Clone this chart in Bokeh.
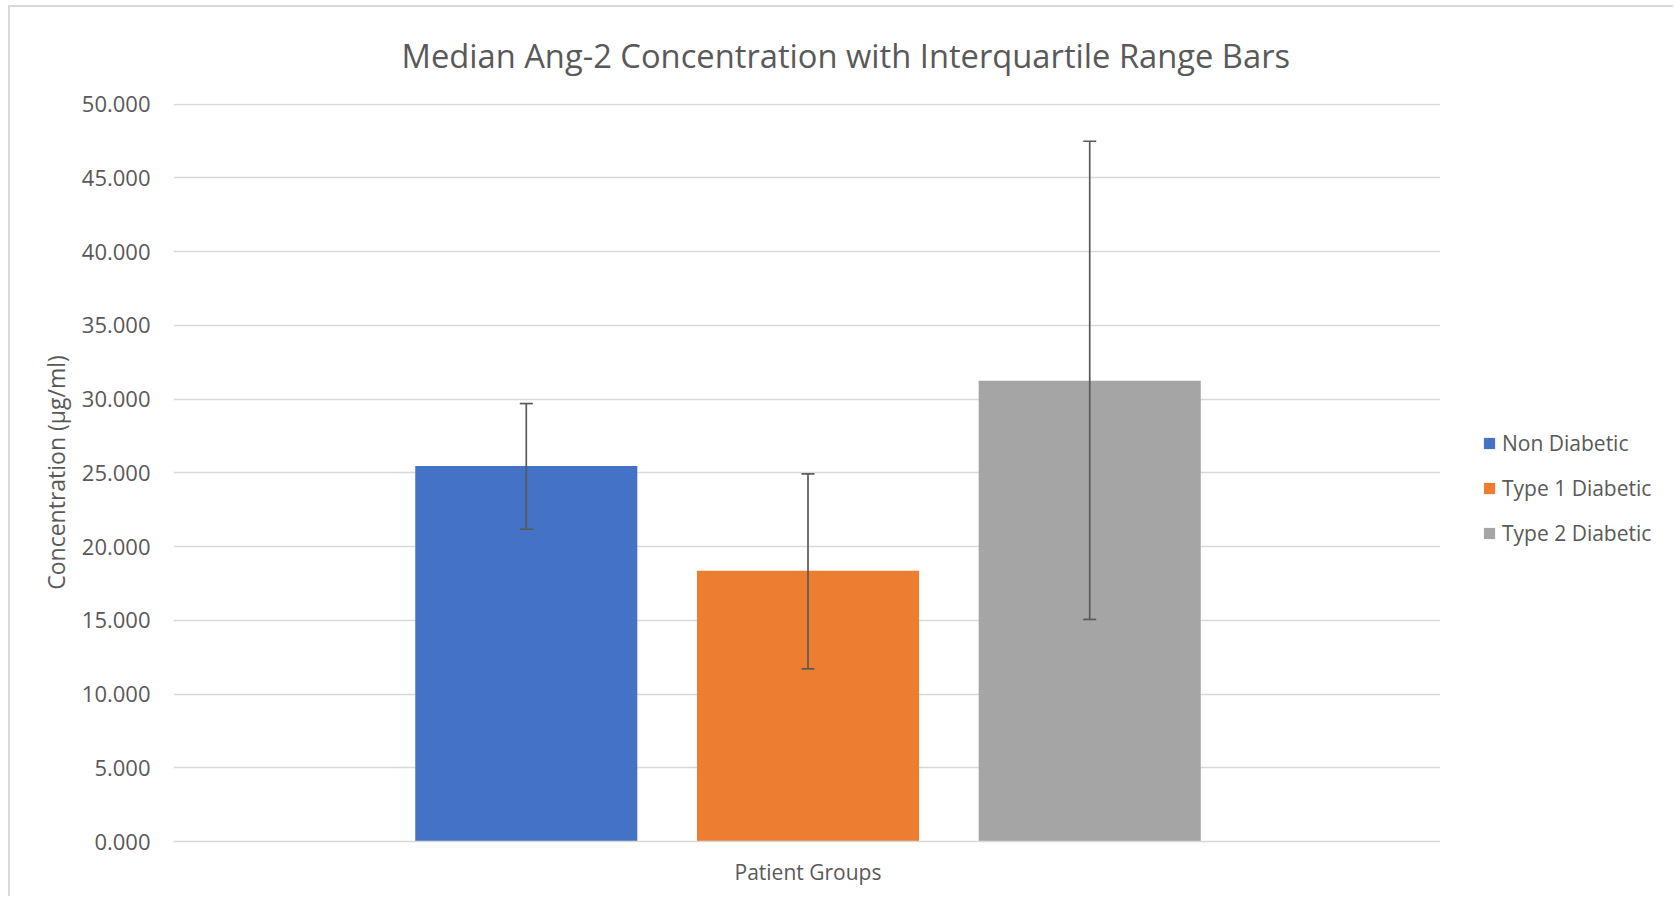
from bokeh.plotting import figure
from bokeh.layouts import row
from bokeh.models import (ColumnDataSource, Whisker, TeeHead, Legend, LegendItem,
                          FixedTicker, NumeralTickFormatter, Range1d, FactorRange)
from bokeh.transform import dodge
from bokeh.embed import file_html
from bokeh.resources import INLINE

# ---- data ----
group = ["Patient Groups"]
series = ["Non Diabetic", "Type 1 Diabetic", "Type 2 Diabetic"]
medians = [25.47, 18.37, 31.24]
q1 = [21.18, 11.71, 15.06]
q3 = [29.70, 24.93, 47.49]
colors = ["#4472C4", "#ED7D31", "#A5A5A5"]
y_ticks = [0, 5, 10, 15, 20, 25, 30, 35, 40, 45, 50]
offsets = [-0.222, 0.0, 0.222]

FONT = "Open Sans"
TXT = "#595959"
GRID = "#d9d9d9"
H = 891

p = figure(x_range=group, y_range=Range1d(0, 50.05), width=1432, height=H,
           output_backend="svg", toolbar_location=None,
           min_border_left=163, min_border_right=0, min_border_top=96,
           min_border_bottom=57)
p.styles = {"margin-left": "8px", "margin-top": "5px",
            "border-left": "2px solid #d9d9d9", "border-top": "2px solid #d9d9d9"}

# legend panel to the right of the plot area
lg = figure(x_range=FactorRange(factors=group), y_range=Range1d(1000, 1001),
            width=233, height=H, output_backend="svg", toolbar_location=None,
            x_axis_type=None, y_axis_type=None,
            min_border_left=0, min_border_right=0, min_border_top=0, min_border_bottom=0)
lg.styles = {"margin-top": "5px", "border-top": "2px solid #d9d9d9"}
lg.outline_line_color = None
lg.grid.visible = False

items = []
for i, name in enumerate(series):
    src = ColumnDataSource(dict(x=group, y=[medians[i]], lo=[q1[i]], hi=[q3[i]]))
    p.vbar(x=dodge("x", offsets[i], range=p.x_range), top="y", width=0.175,
           source=src, fill_color=colors[i], line_color=None)
    w = Whisker(source=src, base=dodge("x", offsets[i], range=p.x_range),
                lower="lo", upper="hi", line_color=TXT, line_width=1.7,
                upper_head=TeeHead(size=13, line_color=TXT, line_width=1.7),
                lower_head=TeeHead(size=13, line_color=TXT, line_width=1.7),
                level="annotation")
    p.add_layout(w)
    r = lg.vbar(x="x", top="y", width=0.175, source=src,
                fill_color=colors[i], line_color=None)
    r.visible = False
    items.append(LegendItem(label=name, renderers=[r]))

# title
p.title.text = "Median Ang-2 Concentration with Interquartile Range Bars"
p.title.text_font = FONT
p.title.text_font_size = "32.7px"
p.title.text_font_style = "normal"
p.title.text_color = TXT
p.title.align = "left"
p.title.vertical_align = "top"
p.title.offset = 228
p.title.standoff = 47

# y axis
p.yaxis.ticker = FixedTicker(ticks=y_ticks)
p.yaxis.formatter = NumeralTickFormatter(format="0.000")
p.yaxis.axis_line_color = None
p.yaxis.major_tick_line_color = None
p.yaxis.minor_tick_line_color = None
p.yaxis.major_tick_out = 0
p.yaxis.major_label_standoff = 23
p.yaxis.major_label_text_font = FONT
p.yaxis.major_label_text_font_size = "22px"
p.yaxis.major_label_text_color = TXT
p.yaxis.axis_label = "Concentration (µg/ml)"
p.yaxis.axis_label_text_font = FONT
p.yaxis.axis_label_text_font_size = "23px"
p.yaxis.axis_label_text_font_style = "normal"
p.yaxis.axis_label_text_color = TXT
p.yaxis.axis_label_standoff = 7

# x axis
p.xaxis.axis_line_color = GRID
p.xaxis.axis_line_width = 1.3
p.xaxis.major_tick_line_color = None
p.xaxis.major_tick_out = 0
p.xaxis.major_label_standoff = 16
p.xaxis.major_label_text_font = FONT
p.xaxis.major_label_text_font_size = "21px"
p.xaxis.major_label_text_color = TXT

# grid
p.xgrid.visible = False
p.ygrid.ticker = FixedTicker(ticks=y_ticks)
p.ygrid.grid_line_color = GRID
p.ygrid.grid_line_width = 1.3
p.outline_line_color = None

legend = Legend(items=items, location=(42, 294), orientation="vertical",
                label_text_font=FONT, label_text_font_size="21px", label_text_color=TXT,
                glyph_width=14, glyph_height=14, label_standoff=6, spacing=17,
                padding=0, margin=0, border_line_color=None, background_fill_alpha=0)
lg.add_layout(legend, "center")

layout = row(p, lg, spacing=0)
open("out.html", "w").write(file_html(layout, INLINE))
